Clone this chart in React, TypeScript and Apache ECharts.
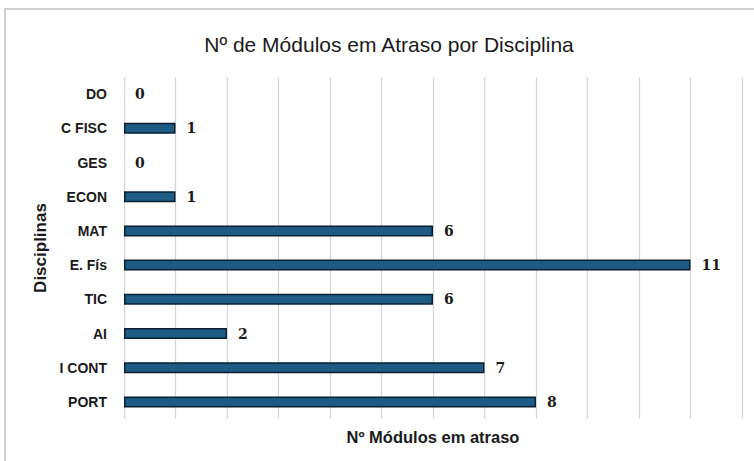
import React, { useEffect, useRef } from "react";
import * as echarts from "echarts";

const categories = ["DO", "C FISC", "GES", "ECON", "MAT", "E. Fís", "TIC", "AI", "I CONT", "PORT"];
const values = [0, 1, 0, 1, 6, 11, 6, 2, 7, 8];
const titleText = "Nº de Módulos em Atraso por Disciplina";
const xAxisName = "Nº Módulos em atraso";
const yAxisName = "Disciplinas";

export default function App() {
  const ref = useRef<HTMLDivElement>(null);
  useEffect(() => {
    if (!ref.current) return;
    const chart = echarts.init(ref.current, undefined, { renderer: "svg" });
    chart.setOption({
      animation: false,
      backgroundColor: "#ffffff",
      title: {
        text: titleText,
        left: 384,
        textAlign: "center",
        top: 29,
        textStyle: { fontFamily: "Liberation Sans", fontSize: 21, fontWeight: "normal", color: "#1a1a1a" },
      },
      graphic: [
        {
          type: "rect",
          shape: { x: 5, y: 9, width: 800, height: 500 },
          style: { fill: "none", stroke: "#d0d0d0", lineWidth: 2 },
          silent: true,
        },
      ],
      grid: { left: 124, right: 12, top: 77, bottom: 42 },
      xAxis: {
        type: "value",
        min: 0,
        max: 12,
        interval: 1,
        axisLabel: { show: false },
        axisLine: { show: false },
        axisTick: { show: false },
        splitLine: { show: true, lineStyle: { color: "#d4d4d4", width: 1.2 } },
        name: xAxisName,
        nameLocation: "middle",
        nameGap: 9,
        nameTextStyle: { fontFamily: "Liberation Sans", fontSize: 16.5, fontWeight: "bold", color: "#1a1a1a" },
      },
      yAxis: {
        type: "category",
        inverse: true,
        data: categories,
        axisLine: { show: false },
        axisTick: { show: false },
        axisLabel: { fontFamily: "Liberation Sans", fontSize: 14, fontWeight: "bold", color: "#1a1a1a", margin: 17 },
        name: yAxisName,
        nameLocation: "middle",
        nameRotate: 90,
        nameGap: 74,
        nameTextStyle: { fontFamily: "Liberation Sans", fontSize: 17, fontWeight: "bold", color: "#1a1a1a" },
      },
      series: [
        {
          type: "bar",
          data: values.map((v) => ({
            value: v,
            itemStyle: v === 0 ? { borderWidth: 0, color: "transparent" } : undefined,
          })),
          barWidth: 11,
          itemStyle: { color: "#1d5b85", borderColor: "#0b1f30", borderWidth: 1.5 },
          label: {
            show: true,
            position: "right",
            distance: 11,
            fontFamily: "DejaVu Serif",
            fontWeight: "bold",
            fontSize: 14,
            color: "#1a1a1a",
          },
        },
      ],
    });
    return () => chart.dispose();
  }, []);
  return <div ref={ref} style={{ position: "fixed", left: 0, top: 0, width: 754, height: 461 }} />;
}
